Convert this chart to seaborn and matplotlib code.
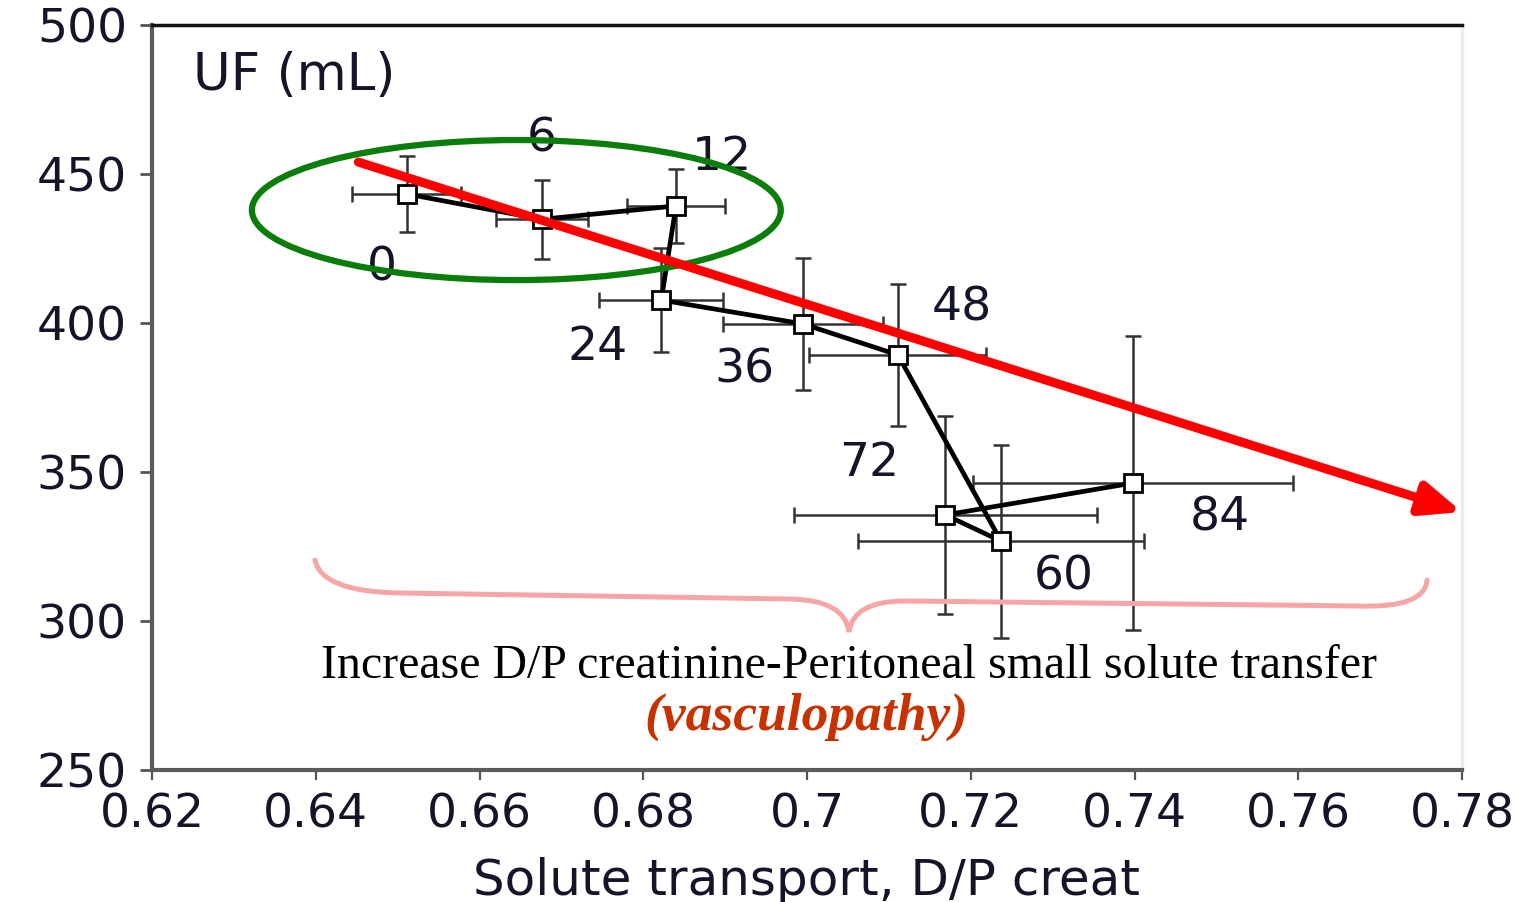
import numpy as np
import pandas as pd
import seaborn as sns
import matplotlib
matplotlib.use("Agg")
import matplotlib.pyplot as plt
from matplotlib.patches import Ellipse, FancyArrowPatch, PathPatch
from matplotlib.path import Path
import matplotlib.patheffects as pe

# ---------------- data ----------------
months = ["0", "6", "12", "24", "36", "48", "60", "72", "84"]
dp_creat = [0.6511, 0.6676, 0.6840, 0.6822, 0.6995, 0.7111, 0.7237, 0.7169, 0.7398]
uf_ml = [443.3, 434.8, 439.3, 407.7, 399.7, 389.3, 326.8, 335.6, 346.3]
dp_err = [0.0067, 0.0056, 0.0060, 0.0076, 0.0098, 0.0108, 0.0175, 0.0185, 0.0195]
uf_err = [12.7, 13.2, 12.3, 17.4, 22.1, 23.8, 32.4, 33.2, 49.3]

x_ticks = [0.62, 0.64, 0.66, 0.68, 0.70, 0.72, 0.74, 0.76, 0.78]
x_tick_labels = ["0.62", "0.64", "0.66", "0.68", "0.7", "0.72", "0.74", "0.76", "0.78"]
y_ticks = [250, 300, 350, 400, 450, 500]

# label offsets (points) relative to each point
label_offsets = [(-18, -53), (0, 58), (33, 35), (-46, -34), (-42, -33),
                 (46, 34), (45, -26), (-55, 37), (63, -25)]

df = pd.DataFrame({"dp": dp_creat, "uf": uf_ml, "month": months})

sns.set_theme(style="white")
plt.rcParams["font.family"] = ["DejaVu Sans"]

TXT = "#15152a"

fig = plt.figure(figsize=(15.24, 9.02), dpi=100)
ax = fig.add_axes([152 / 1524, 1 - 770 / 902, (1462 - 152) / 1524, (770 - 25) / 902])

# error bars
ax.errorbar(dp_creat, uf_ml, xerr=dp_err, yerr=uf_err, fmt="none",
            ecolor="#333333", elinewidth=1.8, capsize=5.5, capthick=1.8, zorder=2)

# connecting line + markers
sns.lineplot(data=df, x="dp", y="uf", sort=False, estimator=None, ax=ax,
             color="black", linewidth=3.4, zorder=3)
ax.plot(dp_creat, uf_ml, linestyle="none", marker="s", markersize=13,
        markerfacecolor="white", markeredgecolor="black", markeredgewidth=2.0, zorder=4)

# month labels
for xv, yv, lab, off in zip(dp_creat, uf_ml, months, label_offsets):
    ax.annotate(lab, (xv, yv), xytext=off, textcoords="offset points",
                ha="center", va="center", fontsize=34, color=TXT, zorder=4)

ax.set_xlim(0.62, 0.78)
ax.set_ylim(250, 500)
ax.set_xticks(x_ticks)
ax.set_xticklabels(x_tick_labels)
ax.set_yticks(y_ticks)
ax.tick_params(axis="both", labelsize=34, labelcolor=TXT)
ax.tick_params(axis="y", direction="out", length=9, width=2.0, color="#555555", pad=9, left=True)
ax.tick_params(axis="x", direction="out", length=7, width=1.6, color="#555555", pad=9, bottom=True)
ax.set_xlabel("Solute transport, D/P creat", fontsize=36, color=TXT, labelpad=14)
ax.set_ylabel("")

for side in ["left", "bottom"]:
    ax.spines[side].set_color("#5a5a5a")
    ax.spines[side].set_linewidth(3.0)
ax.spines["top"].set_color("#111111")
ax.spines["top"].set_linewidth(2.5)
ax.spines["right"].set_color("#ececec")
ax.spines["right"].set_linewidth(2.5)

ax.text(0.031, 0.932, "UF (mL)", transform=ax.transAxes, fontsize=37,
        color=TXT, ha="left", va="center")

# green ellipse
ell = Ellipse((0.6645, 437.9), width=0.0646, height=47.0, fill=False,
              edgecolor="#0b7d0b", linewidth=4.5, zorder=5)
ax.add_patch(ell)

# red trend arrow
arrow = FancyArrowPatch((0.6452, 454.0), (0.7800, 336.6),
                        arrowstyle="-|>,head_length=1.2,head_width=0.5",
                        mutation_scale=20, color="#ff0000", linewidth=6.5,
                        zorder=6, clip_on=False, shrinkA=0, shrinkB=0)
arrow.set_path_effects([pe.SimplePatchShadow(offset=(2, -3), shadow_rgbFace="#888888", alpha=0.5),
                        pe.Normal()])
ax.add_patch(arrow)

# pink brace
verts = [(0.6399, 320.5), (0.64076, 309.73), (0.65029, 309.40),
         (0.69792, 307.38),
         (0.70464, 307.05), (0.70513, 296.31),
         (0.70562, 306.71), (0.71197, 306.71),
         (0.76754, 305.03),
         (0.77548, 304.36), (0.77573, 313.76)]
codes = [Path.MOVETO, Path.CURVE3, Path.CURVE3,
         Path.LINETO,
         Path.CURVE3, Path.CURVE3,
         Path.CURVE3, Path.CURVE3,
         Path.LINETO,
         Path.CURVE3, Path.CURVE3]
brace = PathPatch(Path(verts, codes), fill=False, edgecolor="#f6a6a6",
                  linewidth=3.6, capstyle="round", zorder=5)
ax.add_patch(brace)

ax.text(0.70513, 280.9, "Increase D/P creatinine-Peritoneal small solute transfer",
        fontsize=34.5, family=["Liberation Serif", "DejaVu Serif"], color="black",
        ha="center", va="baseline", zorder=6)
ax.text(0.6999, 263.4, "(vasculopathy)", fontsize=38.5, fontweight="bold", fontstyle="italic",
        family=["Liberation Serif", "DejaVu Serif"], color="#c83200",
        ha="center", va="baseline", zorder=6)

fig.savefig("out.png", dpi=100, facecolor="white")
